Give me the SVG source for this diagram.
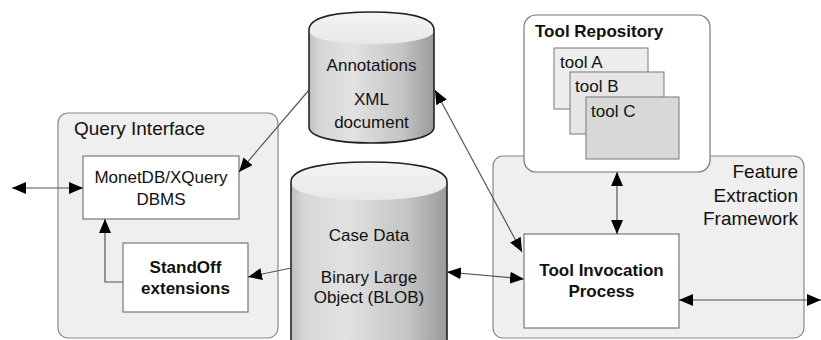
<svg xmlns="http://www.w3.org/2000/svg" width="821" height="340" viewBox="0 0 821 340">
<style>
text{font-family:"Liberation Sans",Arial,sans-serif;fill:#111}
.grp{fill:#efefef;stroke:#888;stroke-width:1.2}
.box{fill:#fff;stroke:#777;stroke-width:1.2}
.n{font-size:17px;text-anchor:middle}
.b{font-weight:bold}
.g{font-size:19px}
.cyl{stroke:#222;stroke-width:1.6}
.c{fill:none;stroke:#555;stroke-width:1.2}
</style>
<defs>
<marker id="ah" viewBox="0 0 14 12" refX="14" refY="6" markerWidth="14" markerHeight="12" markerUnits="userSpaceOnUse" orient="auto-start-reverse">
<path d="M0,0 L14,6 L0,12 Z" fill="#000"/>
</marker>
<linearGradient id="side" x1="0" y1="0" x2="1" y2="0">
<stop offset="0" stop-color="#bdbdbd"/>
<stop offset="0.08" stop-color="#d6d6d6"/>
<stop offset="0.35" stop-color="#e2e2e2"/>
<stop offset="0.75" stop-color="#c4c4c4"/>
<stop offset="1" stop-color="#9a9a9a"/>
</linearGradient>
<linearGradient id="cap" x1="0" y1="0" x2="0" y2="1">
<stop offset="0" stop-color="#f4f4f4"/>
<stop offset="1" stop-color="#e8e8e8"/>
</linearGradient>
</defs>

<g id="query-interface">
<rect class="grp" x="58" y="113" width="220" height="225" rx="10"/>
<text class="g" x="74" y="135">Query Interface</text>
</g>

<g id="feature-extraction-framework">
<rect class="grp" x="493" y="156" width="311" height="182" rx="10"/>
<text class="g" x="798" y="178" text-anchor="end">Feature</text>
<text class="g" x="798" y="202" text-anchor="end">Extraction</text>
<text class="g" x="798" y="225" text-anchor="end">Framework</text>
</g>

<g id="tool-repository">
<rect class="box" x="524" y="15" width="186" height="157" rx="12"/>
<text class="b" x="535" y="37" font-size="17">Tool Repository</text>
<rect x="554" y="48" width="94" height="61" fill="#eeeeee" stroke="#777" stroke-width="1"/>
<text x="560" y="68" font-size="17">tool A</text>
<rect x="570" y="72" width="94" height="62" fill="#e6e6e6" stroke="#777" stroke-width="1"/>
<text x="575" y="92" font-size="17">tool B</text>
<rect x="586" y="97" width="93" height="62" fill="#d8d8d8" stroke="#777" stroke-width="1"/>
<text x="591" y="117" font-size="17">tool C</text>
</g>

<g id="monetdb">
<rect class="box" x="83" y="156" width="156" height="63"/>
<text class="n" x="161" y="183">MonetDB/XQuery</text>
<text class="n" x="161" y="205">DBMS</text>
</g>

<g id="standoff">
<rect class="box" x="123" y="243" width="125" height="69"/>
<text class="n b" x="185.5" y="273">StandOff</text>
<text class="n b" x="185.5" y="294">extensions</text>
</g>

<g id="tool-invocation">
<rect class="box" x="524" y="234" width="155" height="94"/>
<text class="n b" x="601.5" y="276">Tool Invocation</text>
<text class="n b" x="601.5" y="297">Process</text>
</g>

<g id="annotations">
<path d="M309,30 C309,16 340,12 371.5,12 C403,12 434,16 434,30 L434,127 C434,138 403,143 371.5,143 C340,143 309,138 309,127 Z" fill="url(#side)"/>
<path d="M309,30 C309,16 340,12 371.5,12 C403,12 434,16 434,30 C434,40 403,44 371.5,44 C340,44 309,40 309,30 Z" fill="url(#cap)"/>
<path class="cyl" fill="none" d="M309,30 C309,16 340,12 371.5,12 C403,12 434,16 434,30 L434,127 C434,138 403,143 371.5,143 C340,143 309,138 309,127 Z"/>
<text class="n" x="371.5" y="71">Annotations</text>
<text class="n" x="371.5" y="105">XML</text>
<text class="n" x="371.5" y="128">document</text>
</g>

<g id="case-data">
<path d="M291,182 C291,167 330,162 369,162 C408,162 447,167 447,182 L447,345 L291,345 Z" fill="url(#side)"/>
<path d="M291,182 C291,167 330,162 369,162 C408,162 447,167 447,182 C447,195 408,200 369,200 C330,200 291,195 291,182 Z" fill="url(#cap)"/>
<path class="cyl" fill="none" d="M291,345 L291,182 C291,167 330,162 369,162 C408,162 447,167 447,182 L447,345"/>
<text class="n" x="369" y="241">Case Data</text>
<text class="n" x="369" y="283">Binary Large</text>
<text class="n" x="369" y="303">Object (BLOB)</text>
</g>

<g id="connectors">
<line class="c" x1="12" y1="188" x2="83" y2="188" marker-start="url(#ah)" marker-end="url(#ah)"/>
<polyline class="c" points="123,282 105,282 105,219" marker-end="url(#ah)"/>
<line class="c" x1="309" y1="90" x2="239" y2="172" marker-end="url(#ah)"/>
<line class="c" x1="291" y1="268" x2="248" y2="277" marker-end="url(#ah)"/>
<line class="c" x1="435" y1="90" x2="522" y2="252" marker-start="url(#ah)" marker-end="url(#ah)"/>
<line class="c" x1="447" y1="272" x2="524" y2="279" marker-start="url(#ah)" marker-end="url(#ah)"/>
<line class="c" x1="617" y1="172" x2="617" y2="234" marker-start="url(#ah)" marker-end="url(#ah)"/>
<line class="c" x1="679" y1="300" x2="821" y2="300" marker-start="url(#ah)" marker-end="url(#ah)"/>
</g>
</svg>
